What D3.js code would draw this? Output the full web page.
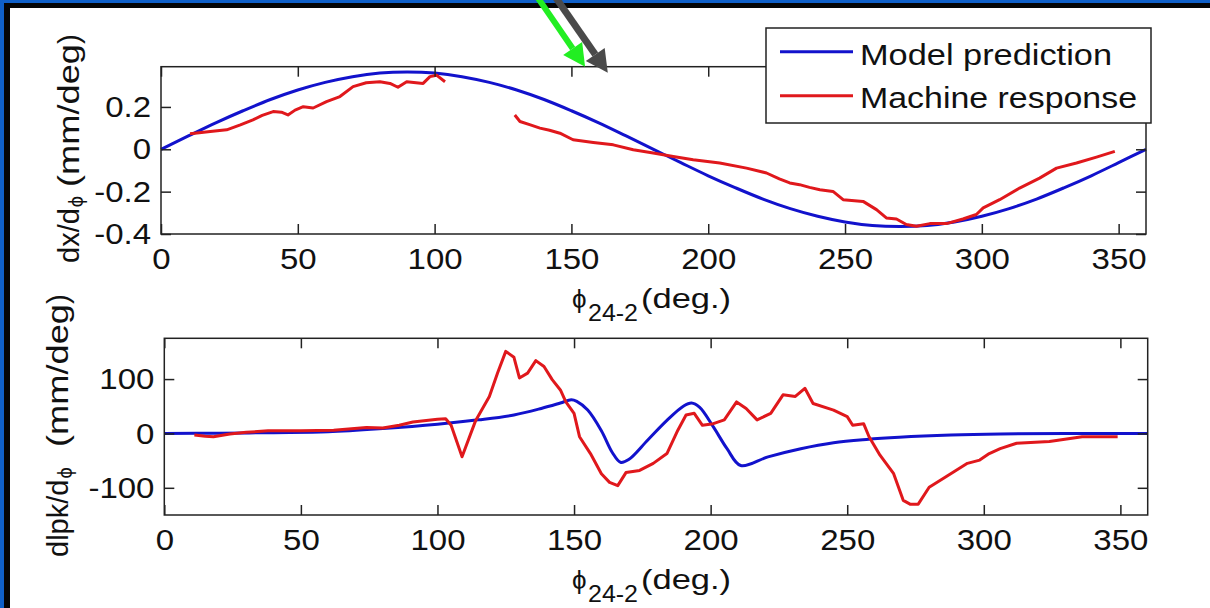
<!DOCTYPE html>
<html>
<head>
<meta charset="utf-8">
<script src="https://cdn.jsdelivr.net/npm/d3@7"></script>
<style>
  body { margin: 0; background: #fff; }
  svg { display: block; font-family: "Liberation Sans", Arial, sans-serif; }
</style>
</head>
<body>
<script>
// ---- data ----
const xTicks = [0, 50, 100, 150, 200, 250, 300, 350];
const topYTicks = [-0.4, -0.2, 0, 0.2];
const botYTicks = [-100, 0, 100];
const topYTickLabels = ["-0.4", "-0.2", "0", "0.2"];

// upper panel: dx/dphi, model (every 10 deg)
const modelTop = [
  [0, 0], [10, 0.063], [20, 0.125], [30, 0.182], [40, 0.235], [50, 0.28], [60, 0.316],
  [70, 0.343], [80, 0.36], [90, 0.365], [100, 0.36], [110, 0.343], [120, 0.316],
  [130, 0.28], [140, 0.235], [150, 0.182], [160, 0.125], [170, 0.063], [180, 0],
  [190, -0.063], [200, -0.125], [210, -0.182], [220, -0.235], [230, -0.28], [240, -0.316],
  [250, -0.343], [260, -0.36], [270, -0.365], [280, -0.36], [290, -0.343], [300, -0.316],
  [310, -0.28], [320, -0.235], [330, -0.182], [340, -0.125], [350, -0.063], [360, 0]
];

// upper panel: machine response, two pieces
const machineTopA = [
  [10.6, 0.073], [14, 0.078], [18, 0.084], [24, 0.092], [29, 0.115], [33.6, 0.139],
  [37, 0.16], [41, 0.178], [44, 0.175], [46.4, 0.162], [49, 0.185], [52, 0.201],
  [55.6, 0.195], [60.5, 0.225], [65.4, 0.249], [70.2, 0.296], [75, 0.314], [80, 0.319],
  [83.7, 0.311], [86.6, 0.293], [89.8, 0.319], [95.8, 0.311], [98.3, 0.343],
  [100.7, 0.35], [103.8, 0.319]
];
const machineTopB = [
  [129.3, 0.162], [131.2, 0.131], [135, 0.115], [138.5, 0.10], [142, 0.09], [145.8, 0.076],
  [150.6, 0.045], [158, 0.032], [165.3, 0.021], [172.6, -0.002], [179.9, -0.018],
  [187.2, -0.034], [194.5, -0.049], [204.2, -0.065], [214, -0.089], [221.3, -0.112],
  [226, -0.14], [229.8, -0.159], [233.4, -0.167], [237, -0.18], [240.8, -0.191],
  [245.6, -0.199], [249.3, -0.238], [256.6, -0.246], [261.5, -0.285], [265.1, -0.324],
  [268.8, -0.329], [272.4, -0.355], [276.1, -0.363], [281, -0.351], [287.1, -0.351],
  [293.1, -0.329], [298, -0.308], [300.5, -0.277], [306.5, -0.238], [313.8, -0.183],
  [321.1, -0.136], [327.3, -0.089], [334.6, -0.065], [341.9, -0.037], [348.6, -0.01]
];

// lower panel: dlpk/dphi
const modelBot = [
  [0, 0], [20, 0.5], [40, 1.5], [60, 3], [80, 9], [100, 17], [115, 25], [128, 34],
  [138, 46], [145, 56], [149, 62], [151, 59], [155, 43], [160, 5], [164, -35],
  [167, -53], [170, -48], [177, -12], [184, 24], [190, 50], [193, 56], [196, 48],
  [201, 12], [206, -28], [211, -59], [221, -43], [233, -28], [245, -17], [257, -11],
  [269, -7], [288, -3], [306, -1], [330, 0], [360, 0]
];
const machineBot = [
  [11, -3], [15, -5], [18, -6], [24, -1], [30, 2], [38, 5], [50, 5], [62, 6], [74, 11],
  [80, 10], [86, 15], [91, 21], [100, 26], [103, 27], [105, 15], [109, -43], [114, 24],
  [119, 68], [122, 111], [125, 151], [128, 140], [130, 102], [133, 111], [136, 134],
  [139, 123], [142, 99], [145, 80], [147, 58], [150, 37], [152, -6], [156, -37],
  [160, -74], [163, -90], [166, -96], [169, -72], [174, -68], [179, -55], [184, -37],
  [188, 6], [191, 34], [194, 37], [197, 15], [201, 18], [205, 25], [209.5, 58],
  [213, 46], [217, 25], [222, 37], [226.5, 71], [231, 68], [234.5, 83], [237.5, 55],
  [245, 43], [250, 31], [252, 15], [256, 18], [258, -6], [262, -40], [267, -74],
  [270.5, -123], [273, -130], [276, -130], [280, -99], [286, -80], [294, -55],
  [298.5, -49], [302, -37], [306, -28], [312, -18], [324, -15], [336, -6], [349, -6]
];

const blue = "#1212cc";
const red = "#e0181c";
const ink = "#222";

const svg = d3.select("body").append("svg")
    .attr("width", 1210)
    .attr("height", 608);

svg.append("rect").attr("width", 1210).attr("height", 608).attr("fill", "#fff");

// draw one panel; returns its scales
function drawPanel(cfg) {
    let x = d3.scaleLinear().domain([0, 360]).range([cfg.left, cfg.right]);
    let y = d3.scaleLinear().domain(cfg.yDomain).range([cfg.bottom, cfg.top]);
    let g = svg.append("g");

    let line = d3.line().x(d => x(d[0])).y(d => y(d[1]));

    g.append("path").datum(cfg.model)
        .attr("d", line.curve(d3.curveCatmullRom))
        .attr("fill", "none").attr("stroke", blue).attr("stroke-width", 3);

    cfg.machine.forEach(seg => {
        g.append("path").datum(seg)
            .attr("d", d3.line().x(d => x(d[0])).y(d => y(d[1])))
            .attr("fill", "none").attr("stroke", red).attr("stroke-width", 3)
            .attr("stroke-linejoin", "round");
    });

    // axes with inward ticks on all four sides
    let ax = [
        g.append("g").attr("transform", `translate(0,${cfg.bottom})`)
            .call(d3.axisBottom(x).tickValues(xTicks).tickSizeInner(-10).tickSizeOuter(0).tickPadding(14)),
        g.append("g").attr("transform", `translate(0,${cfg.top})`)
            .call(d3.axisTop(x).tickValues(xTicks).tickSizeInner(-10).tickSizeOuter(0).tickFormat("")),
        g.append("g").attr("transform", `translate(${cfg.left},0)`)
            .call(d3.axisLeft(y).tickValues(cfg.yTicks).tickSizeInner(-10).tickSizeOuter(0)
                .tickPadding(cfg.yPad).tickFormat((d, i) => cfg.yLabels[i])),
        g.append("g").attr("transform", `translate(${cfg.right},0)`)
            .call(d3.axisRight(y).tickValues(cfg.yTicks).tickSizeInner(-10).tickSizeOuter(0).tickFormat(""))
    ];
    ax.forEach(a => {
        a.select(".domain").remove();
        a.selectAll(".tick line").attr("stroke", ink).attr("stroke-width", 1.5);
        a.selectAll(".tick text")
            .attr("font-size", 30)
            .attr("font-family", "'Liberation Sans', Arial, sans-serif")
            .attr("fill", "#111")
            .attr("transform", "scale(1.1,1)");
    });

    g.append("rect")
        .attr("x", cfg.left).attr("y", cfg.top)
        .attr("width", cfg.right - cfg.left).attr("height", cfg.bottom - cfg.top)
        .attr("fill", "none").attr("stroke", ink).attr("stroke-width", 1.5);

    return { x: x, y: y };
}

let topPanel = drawPanel({
    left: 161, right: 1146, top: 66.7, bottom: 234,
    yDomain: [-0.4, 0.39], yTicks: topYTicks, yLabels: topYTickLabels, yPad: 9,
    model: modelTop, machine: [machineTopA, machineTopB]
});

drawPanel({
    left: 164.3, right: 1147.7, top: 338.3, bottom: 515,
    yDomain: [-150, 175], yTicks: botYTicks, yLabels: botYTicks.map(String), yPad: 9,
    model: modelBot, machine: [machineBot]
});

// rotated y labels: "d.../d" + small phi + "(mm/deg" + ")", laid along the rotated baseline
function yLabel(cx, yBottom, yTop, first) {
    let g = svg.append("g").attr("transform", `translate(${cx},0) rotate(-90)`);
    // in the rotated frame, screen y = -x
    let a = g.append("text").attr("x", -yBottom).attr("font-size", 29).attr("fill", "#111")
        .text(first);
    let w = a.node().getComputedTextLength();
    g.append("text").attr("x", -yBottom + w + 1).attr("y", 4).attr("font-size", 20)
        .attr("fill", "#111").text("\u03D5");
    g.append("text").attr("x", -yTop - 11).attr("text-anchor", "end")
        .attr("font-size", 30).attr("fill", "#111")
        .attr("textLength", 143).attr("lengthAdjust", "spacingAndGlyphs")
        .text("(mm/deg");
    g.append("text").attr("x", -yTop - 11).attr("font-size", 30).attr("fill", "#111")
        .text("\u0029");
}
yLabel(79, 263, 33, "dx/d");
yLabel(68, 557, 293, "dlpk/d");

function xLabel(base) {
    svg.append("text").attr("x", 572).attr("y", base).attr("font-size", 26)
        .attr("fill", "#111").text("\u03D5");
    svg.append("text").attr("x", 588).attr("y", base + 13).attr("font-size", 24)
        .attr("fill", "#111").attr("textLength", 50).attr("lengthAdjust", "spacingAndGlyphs")
        .text("24-2");
    svg.append("text").attr("x", 641).attr("y", base).attr("font-size", 28)
        .attr("fill", "#111").attr("textLength", 90).attr("lengthAdjust", "spacingAndGlyphs")
        .text("(deg.)");
}
xLabel(308);
xLabel(589);

// legend
const legendItems = [
    { name: "Model prediction", color: blue, ly: 51.7, ty: 65, len: 252 },
    { name: "Machine response", color: red, ly: 95.7, ty: 108, len: 277 }
];
let lg = svg.append("g");
lg.append("rect").attr("x", 766).attr("y", 28).attr("width", 385).attr("height", 95)
    .attr("fill", "#fff").attr("stroke", ink).attr("stroke-width", 1.5);
legendItems.forEach(d => {
    lg.append("line").attr("x1", 780).attr("x2", 853).attr("y1", d.ly).attr("y2", d.ly)
        .attr("stroke", d.color).attr("stroke-width", 3);
    lg.append("text").attr("x", 860).attr("y", d.ty).attr("font-size", 29).attr("fill", "#111")
        .attr("textLength", d.len).attr("lengthAdjust", "spacingAndGlyphs").text(d.name);
});

// slide frame (top and left edges only)
svg.append("rect").attr("x", 0).attr("y", 0).attr("width", 1210).attr("height", 3).attr("fill", "#1060c8");
svg.append("rect").attr("x", 0).attr("y", 0).attr("width", 4).attr("height", 608).attr("fill", "#1060c8");
svg.append("rect").attr("x", 4).attr("y", 3).attr("width", 1206).attr("height", 5).attr("fill", "#050505");
svg.append("rect").attr("x", 4).attr("y", 3).attr("width", 6).attr("height", 605).attr("fill", "#050505");

// annotation arrows pointing at the upper panel
const arrows = [
    { tip: [155, 0.39], from: [-48, -70], color: "#22ee22", w: 6 },
    { tip: [163.3, 0.362], from: [-52, -75], color: "#4a4a4a", w: 7 }
];
arrows.forEach(a => {
    let tx = topPanel.x(a.tip[0]), ty = topPanel.y(a.tip[1]);
    let L = Math.hypot(a.from[0], a.from[1]);
    let ux = a.from[0] / L, uy = a.from[1] / L;   // unit vector back along the shaft
    let hl = 22, hw = 11.5;
    let bx = tx + ux * hl, by = ty + uy * hl;
    svg.append("line")
        .attr("x1", tx + a.from[0]).attr("y1", ty + a.from[1])
        .attr("x2", bx).attr("y2", by)
        .attr("stroke", a.color).attr("stroke-width", a.w);
    svg.append("path")
        .attr("d", `M${tx},${ty}L${bx - uy * hw},${by + ux * hw}L${bx + uy * hw},${by - ux * hw}Z`)
        .attr("fill", a.color);
});
</script>
</body>
</html>
